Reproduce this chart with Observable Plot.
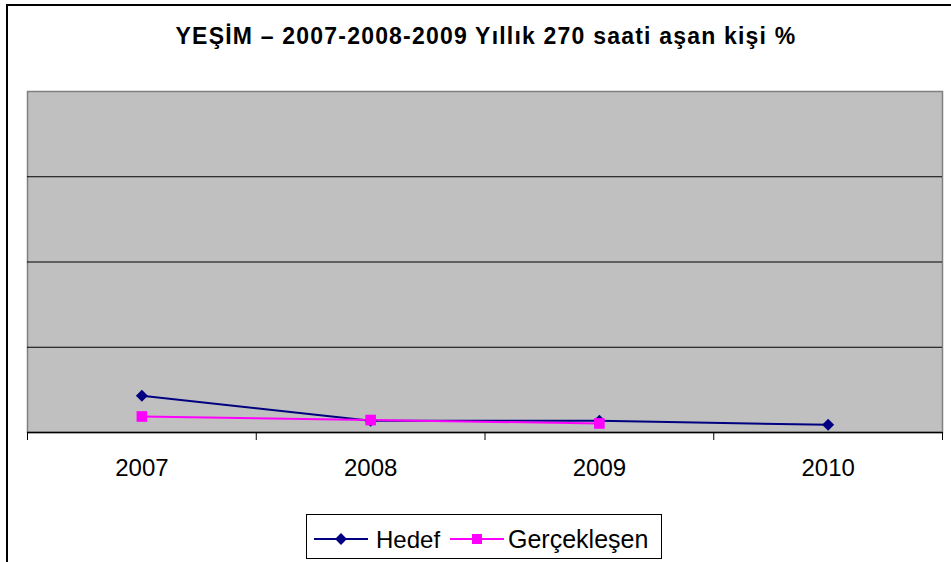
<!DOCTYPE html>
<html>
<head>
<meta charset="utf-8">
<script src="https://cdn.jsdelivr.net/npm/d3@7"></script>
<script src="https://cdn.jsdelivr.net/npm/@observablehq/plot@0.6"></script>
<style>
  html, body { margin: 0; padding: 0; background: #fff; }
  #wrap { position: relative; width: 951px; height: 562px; overflow: hidden; font-family: "Liberation Sans", Arial, sans-serif; }
  #border { position: absolute; left: 6px; top: 4px; width: 2000px; height: 2000px; border-left: 2px solid #000; border-top: 2px solid #000; }
  #title { position: absolute; left: 0; width: 972px; top: 23px; text-align: center; font-weight: bold; font-size: 23px; letter-spacing: 1.2px; color: #000; }
  #chart { position: absolute; left: 0; top: 0; }
  #legend { position: absolute; left: 306px; top: 514px; width: 354px; height: 43px; border: 1px solid #000; background: #fff; }
</style>
</head>
<body>
<div id="wrap">
  <div id="border"></div>
  <div id="chart"></div>
  <div id="title">YEŞİM – 2007-2008-2009 Yıllık 270 saati aşan kişi %</div>
  <div id="legend"></div>
</div>
<script>
const years = ["2007", "2008", "2009", "2010"];
const hedef = [2.16, 0.69, 0.69, 0.45];
const gerceklesen = [0.94, 0.73, 0.53];
const gridValues = [5, 10, 15];
const seriesNames = ["Hedef", "Gerçekleşen"];

const hedefData = years.map((y, i) => ({i, year: y, value: hedef[i]}));
const gercData = gerceklesen.map((v, i) => ({i, year: years[i], value: v}));

const xPos = d => d.i + 0.5;

const plot = Plot.plot({
  width: 951,
  height: 562,
  marginLeft: 27,
  marginRight: 9,
  marginTop: 91,
  marginBottom: 130,
  style: {fontFamily: "'Liberation Sans', Arial, sans-serif", background: "transparent"},
  x: {type: "linear", domain: [0, years.length]},
  y: {domain: [0, 20]},
  marks: [
    Plot.frame({fill: "#c0c0c0", stroke: "#808080", strokeWidth: 1.5}),
    Plot.ruleY(gridValues, {stroke: "#000", strokeWidth: 1}),
    Plot.ruleY([0], {stroke: "#000", strokeWidth: 1.5}),
    Plot.axisX({ticks: d3.range(years.length + 1), tickFormat: () => "", tickSize: 8, stroke: "#000"}),
    Plot.axisX({ticks: years.map((_, i) => i + 0.5), tickFormat: v => years[Math.floor(v)], tickSize: 0, tickPadding: 26, fontSize: 24, fill: "#000"}),
    Plot.axisY({ticks: [], tickFormat: () => "", label: null}),
    Plot.line(hedefData, {x: xPos, y: "value", stroke: "#000080", strokeWidth: 2}),
    Plot.line(gercData, {x: xPos, y: "value", stroke: "#ff00ff", strokeWidth: 2}),
    Plot.dot(hedefData, {x: xPos, y: "value", symbol: "diamond2", r: 5.4, fill: "#000080", stroke: "none"}),
    Plot.dot(gercData, {x: xPos, y: "value", symbol: "square", r: 6, fill: "#ff00ff", stroke: "none"})
  ]
});
document.getElementById("chart").appendChild(plot);

// legend
const lg = d3.select("#legend").append("svg").attr("width", 354).attr("height", 43)
  .style("font-family", "'Liberation Sans', Arial, sans-serif");
const items = [
  {name: seriesNames[0], color: "#000080", x0: 7, sym: d3.symbolDiamond2, tx: 69, fs: 24},
  {name: seriesNames[1], color: "#ff00ff", x0: 143, sym: d3.symbolSquare, tx: 201, fs: 25}
];
items.forEach(it => {
  lg.append("line").attr("x1", it.x0).attr("x2", it.x0 + 54).attr("y1", 24).attr("y2", 24)
    .attr("stroke", it.color).attr("stroke-width", 2);
  lg.append("path").attr("d", d3.symbol(it.sym, it.sym === d3.symbolSquare ? 100 : 90)())
    .attr("transform", `translate(${it.x0 + 27},24)`).attr("fill", it.color);
  lg.append("text").attr("x", it.tx).attr("y", 24).attr("dy", "0.36em")
    .attr("font-size", it.fs).attr("fill", "#000").text(it.name);
});
</script>
</body>
</html>
